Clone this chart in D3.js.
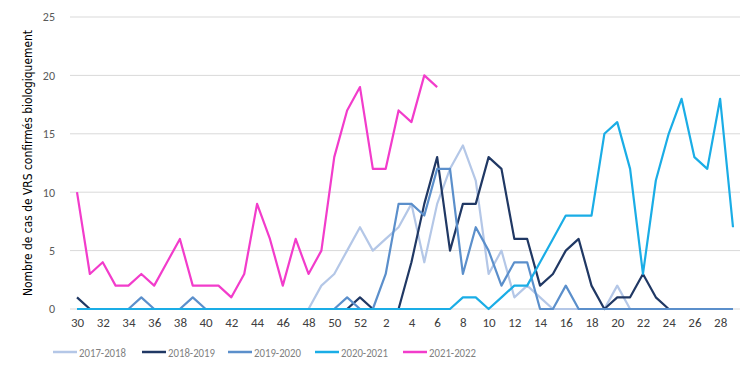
<!DOCTYPE html>
<html><head><meta charset="utf-8">
<script src="https://cdn.jsdelivr.net/npm/d3@7"></script>
<style>body{margin:0;background:#fff}svg{display:block}</style>
</head><body><svg id="c" width="750" height="367"></svg>
<script>
const weeks = [30,31,32,33,34,35,36,37,38,39,40,41,42,43,44,45,46,47,48,49,50,51,52,1,2,3,4,5,6,7,8,9,10,11,12,13,14,15,16,17,18,19,20,21,22,23,24,25,26,27,28,29];
const tickWeeks = [30,32,34,36,38,40,42,44,46,48,50,52,2,4,6,8,10,12,14,16,18,20,22,24,26,28];
const yTicks = [0,5,10,15,20,25];
const seriesNames = ["2017-2018","2018-2019","2019-2020","2020-2021","2021-2022"];
const s2017 = [0,0,0,0,0,0,0,0,0,0,0,0,0,0,0,0,0,0,0,2,3,5,7,5,6,7,9,4,9,12,14,11,3,5,1,2,1,0,0,0,0,0,2,0,0,0,0,0,0,0,0,0];
const s2018 = [1,0,0,0,0,0,0,0,0,0,0,0,0,0,0,0,0,0,0,0,0,0,1,0,0,0,4,9,13,5,9,9,13,12,6,6,2,3,5,6,2,0,1,1,3,1,0,0,0,0,0,0];
const s2019 = [0,0,0,0,0,1,0,0,0,1,0,0,0,0,0,0,0,0,0,0,0,1,0,0,3,9,9,8,12,12,3,7,5,2,4,4,0,0,2,0,0,0,0,0,0,0,0,0,0,0,0,0];
const s2020 = [0,0,0,0,0,0,0,0,0,0,0,0,0,0,0,0,0,0,0,0,0,0,0,0,0,0,0,0,0,0,1,1,0,1,2,2,4,6,8,8,8,15,16,12,3,11,15,18,13,12,18,7];
const s2021 = [10,3,4,2,2,3,2,4,6,2,2,2,1,3,9,6,2,6,3,5,13,17,19,12,12,17,16,20,19];
const colors = ["#b4c7e7","#203864","#5b8fcb","#1aade6","#f23ccb"];
const allSeries = [s2017,s2018,s2019,s2020,s2021];

const svg = d3.select("#c");
const x = d3.scalePoint().domain(d3.range(weeks.length)).range([77,733]);
const y = d3.scaleLinear().domain([0,25]).range([309,17]);
const ff = "Calibri, Carlito, 'Liberation Sans Narrow', 'Open Sans', sans-serif";

svg.append("g").selectAll("line").data(yTicks).join("line")
  .attr("x1",70).attr("x2",740).attr("y1",d=>y(d)).attr("y2",d=>y(d))
  .attr("stroke","#d9d9d9").attr("stroke-width",1);

const yAxis = d3.axisLeft(y).tickValues(yTicks).tickSize(0).tickPadding(0);
const gy = svg.append("g").attr("transform","translate(55,0)").call(yAxis);
gy.select(".domain").remove();
gy.selectAll("text").attr("font-family",ff).attr("font-size","12px").attr("fill","#595959");

const xAxis = d3.axisBottom(x).tickValues(tickWeeks.map(w=>weeks.indexOf(w))).tickFormat(i=>weeks[i]).tickSize(0).tickPadding(0);
const gx = svg.append("g").attr("transform","translate(0,318)").call(xAxis);
gx.select(".domain").remove();
gx.selectAll("text").attr("font-family",ff).attr("font-size","13px").attr("fill","#404040");

svg.append("text").attr("transform","translate(32,163) rotate(-90)")
  .attr("text-anchor","middle").attr("font-family","'Liberation Sans Narrow','DejaVu Sans Condensed','Open Sans',sans-serif")
  .attr("font-size","13px").attr("fill","#000")
  .attr("textLength",266).attr("lengthAdjust","spacingAndGlyphs")
  .text("Nombre de cas de VRS confirmés biologiquement");

const line = d3.line().x((d,i)=>x(i)).y(d=>y(d));
allSeries.forEach((s,k)=>{
  svg.append("path").datum(s).attr("d",line).attr("fill","none")
    .attr("stroke",colors[k]).attr("stroke-width",2.2).attr("stroke-linejoin","round");
});

const legX = [53,142,228,315,403];
const lg = svg.append("g");
seriesNames.forEach((n,k)=>{
  lg.append("line").attr("x1",legX[k]).attr("x2",legX[k]+24).attr("y1",352).attr("y2",352)
    .attr("stroke",colors[k]).attr("stroke-width",2.5);
  lg.append("text").attr("x",legX[k]+26).attr("y",356.5).attr("font-family",ff)
    .attr("font-size","13px").attr("fill","#7f7f7f").attr("textLength",47).attr("lengthAdjust","spacingAndGlyphs").text(n);
});
</script></body></html>
